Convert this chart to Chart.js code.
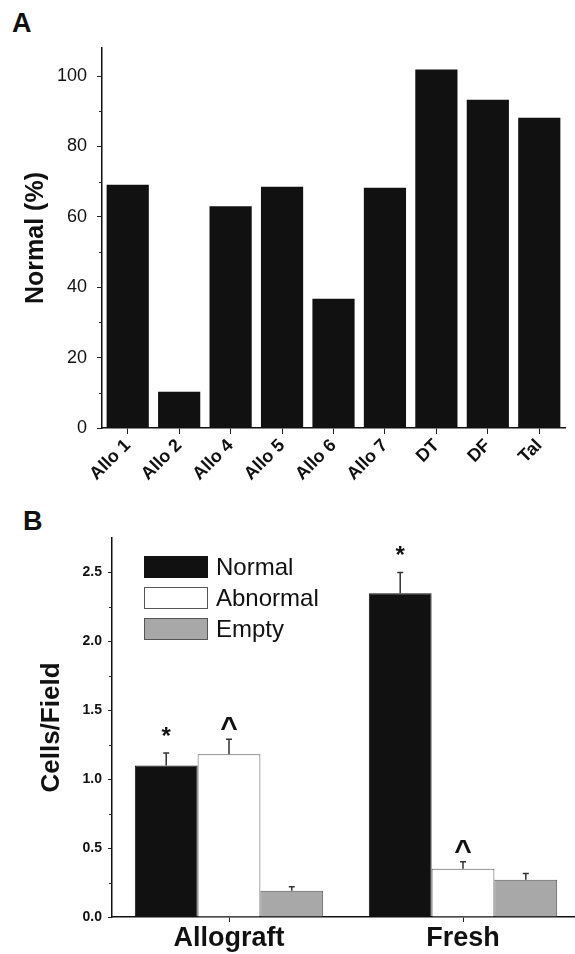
<!DOCTYPE html>
<html>
<head>
<meta charset="utf-8">
<script src="https://cdn.jsdelivr.net/npm/chart.js@4"></script>
<style>
  html, body { margin: 0; padding: 0; background: #fff; overflow: hidden; }
  body { width: 575px; height: 954px; position: relative; font-family: Arial, "Liberation Sans", sans-serif; }
  .panel-label { position: absolute; font-weight: bold; font-size: 27px; color: #111; }
  #wrapA { position: absolute; left: 0; top: 0; width: 575px; height: 500px; }
  #wrapB { position: absolute; left: 0; top: 480px; width: 590px; height: 474px; }
</style>
</head>
<body>
<div class="panel-label" style="left:12px; top:8px;">A</div>
<div class="panel-label" style="left:23px; top:506px;">B</div>
<div id="wrapA"><canvas id="chartA"></canvas></div>
<div id="wrapB"><canvas id="chartB"></canvas></div>
<script>
// Panel A - porcentaje normal por muestra
const samples = ['Allo 1', 'Allo 2', 'Allo 4', 'Allo 5', 'Allo 6', 'Allo 7', 'DT', 'DF', 'Tal'];
const normalPct = [69.1, 10.3, 63.0, 68.6, 36.7, 68.3, 101.9, 93.3, 88.2];

// Panel B - celulas por campo
const groups = ['Allograft', 'Fresh'];
const normalCells = [1.10, 2.35];
const normalErr = [0.09, 0.15];
const abnormalCells = [1.18, 0.35];
const abnormalErr = [0.11, 0.05];
const emptyCells = [0.19, 0.27];
const emptyErr = [0.03, 0.045];
const normalSig = ['*', '*'];
const abnormalSig = ['^', '^'];
const emptySig = ['', ''];

const font = 'Arial, "Liberation Sans", sans-serif';

// ticks menores sobre el eje y
const minorTicks = {
  id: 'minorTicks',
  afterDraw(chart, args, opts) {
    const y = chart.scales.y;
    const c = chart.ctx;
    c.save();
    c.strokeStyle = '#222';
    c.lineWidth = 1;
    for (let v = opts.step; v < y.max; v += opts.step) {
      const rem = Math.abs(v / opts.major - Math.round(v / opts.major));
      if (rem < 1e-6) continue;
      const py = Math.round(y.getPixelForValue(v)) + 0.5;
      c.beginPath();
      c.moveTo(y.right - 3, py);
      c.lineTo(y.right, py);
      c.stroke();
    }
    c.restore();
  }
};

// barras de error (solo hacia arriba) y marcas de significancia
const errorBars = {
  id: 'errorBars',
  afterDatasetsDraw(chart) {
    const c = chart.ctx;
    const y = chart.scales.y;
    c.save();
    chart.data.datasets.forEach((ds, i) => {
      const meta = chart.getDatasetMeta(i);
      meta.data.forEach((bar, j) => {
        const top = y.getPixelForValue(ds.data[j] + ds.err[j]);
        const base = y.getPixelForValue(ds.data[j]);
        c.strokeStyle = '#333';
        c.lineWidth = 1.5;
        c.beginPath();
        c.moveTo(bar.x, base);
        c.lineTo(bar.x, top);
        c.moveTo(bar.x - 3, top);
        c.lineTo(bar.x + 3, top);
        c.stroke();
        if (ds.sig[j]) {
          c.fillStyle = '#111';
          c.textAlign = 'center';
          c.textBaseline = 'middle';
          if (ds.sig[j] === '*') {
            c.font = 'bold 24px ' + font;
            c.fillText('*', bar.x, top - 16);
          } else {
            c.font = 'bold 30px ' + font;
            c.fillText('^', bar.x, top - 10);
          }
        }
      });
    });
    c.restore();
  }
};

// leyenda dentro del area del grafico
const boxLegend = {
  id: 'boxLegend',
  afterDraw(chart) {
    const c = chart.ctx;
    const a = chart.chartArea;
    c.save();
    chart.data.datasets.forEach((ds, i) => {
      const bx = a.left + 32;
      const by = a.top + 18 + i * 31;
      c.fillStyle = ds.backgroundColor;
      c.fillRect(bx, by, 64, 22);
      c.strokeStyle = ds.borderColor;
      c.lineWidth = 1;
      c.strokeRect(bx + 0.5, by + 0.5, 63, 21);
      c.fillStyle = '#111';
      c.font = '24px ' + font;
      c.textAlign = 'left';
      c.textBaseline = 'middle';
      c.fillText(ds.label, bx + 72, by + 12);
    });
    c.restore();
  }
};

const chartA = new Chart(document.getElementById('chartA'), {
  type: 'bar',
  data: {
    labels: samples,
    datasets: [{
      data: normalPct,
      backgroundColor: '#111',
      borderColor: '#000',
      borderWidth: 0,
      barPercentage: 0.82,
      categoryPercentage: 1
    }]
  },
  options: {
    responsive: true,
    maintainAspectRatio: false,
    animation: false,
    layout: { padding: { top: 48, right: 10, left: 0, bottom: 0 } },
    plugins: { legend: { display: false }, tooltip: { enabled: false }, minorTicks: { step: 10, major: 20 } },
    scales: {
      x: {
        offset: true,
        grid: { offset: false, drawOnChartArea: false, drawTicks: true, tickLength: 6, color: '#222' },
        border: { display: true, color: '#111', width: 1.5 },
        ticks: { color: '#111', font: { family: font, size: 18, weight: 'bold' }, minRotation: 45, maxRotation: 45, padding: 1 },
        afterFit(s) { s.height = 72; }
      },
      y: {
        min: 0, max: 108,
        afterBuildTicks(s) { s.ticks = [0, 20, 40, 60, 80, 100].map(v => ({ value: v })); },
        grid: { drawOnChartArea: false, drawTicks: true, tickLength: 5, color: '#222' },
        border: { display: true, color: '#111', width: 1.5 },
        ticks: { color: '#111', font: { family: font, size: 18 }, padding: 10 },
        title: { display: true, text: 'Normal (%)', color: '#111', font: { family: font, size: 25, weight: 'bold' }, padding: { top: 21, bottom: 0 } },
        afterFit(s) { s.width = 102; }
      }
    }
  },
  plugins: [minorTicks]
});

const chartB = new Chart(document.getElementById('chartB'), {
  type: 'bar',
  data: {
    labels: groups,
    datasets: [
      { label: 'Normal', data: normalCells, err: normalErr, sig: normalSig, backgroundColor: '#111', borderColor: '#111', borderWidth: 1 },
      { label: 'Abnormal', data: abnormalCells, err: abnormalErr, sig: abnormalSig, backgroundColor: '#fff', borderColor: '#555', borderWidth: 1 },
      { label: 'Empty', data: emptyCells, err: emptyErr, sig: emptySig, backgroundColor: '#a8a8a8', borderColor: '#555', borderWidth: 1 }
    ]
  },
  options: {
    responsive: true,
    maintainAspectRatio: false,
    animation: false,
    datasets: { bar: { barPercentage: 1, categoryPercentage: 0.805 } },
    layout: { padding: { top: 58, right: 10, left: 0, bottom: 0 } },
    plugins: {
      tooltip: { enabled: false },
      legend: { display: false },
      minorTicks: { step: 0.25, major: 0.5 }
    },
    scales: {
      x: {
        offset: true,
        grid: { offset: false, drawOnChartArea: false, drawTicks: true, tickLength: 5, color: '#222' },
        border: { display: true, color: '#111', width: 1.5 },
        ticks: { color: '#111', font: { family: font, size: 27, weight: 'bold' }, padding: 0 },
        afterFit(s) { s.height = 37; }
      },
      y: {
        min: 0, max: 2.75,
        afterBuildTicks(s) { s.ticks = [0, 0.5, 1, 1.5, 2, 2.5].map(v => ({ value: v })); },
        grid: { drawOnChartArea: false, drawTicks: true, tickLength: 4, color: '#222' },
        border: { display: true, color: '#111', width: 1.5 },
        ticks: { color: '#111', font: { family: font, size: 14, weight: 'bold' }, padding: 6, callback: v => v.toFixed(1) },
        title: { display: true, text: 'Cells/Field', color: '#111', font: { family: font, size: 26, weight: 'bold' }, padding: { top: 36, bottom: 0 } },
        afterFit(s) { s.width = 112; }
      }
    }
  },
  plugins: [minorTicks, errorBars, boxLegend]
});
</script>
</body>
</html>
